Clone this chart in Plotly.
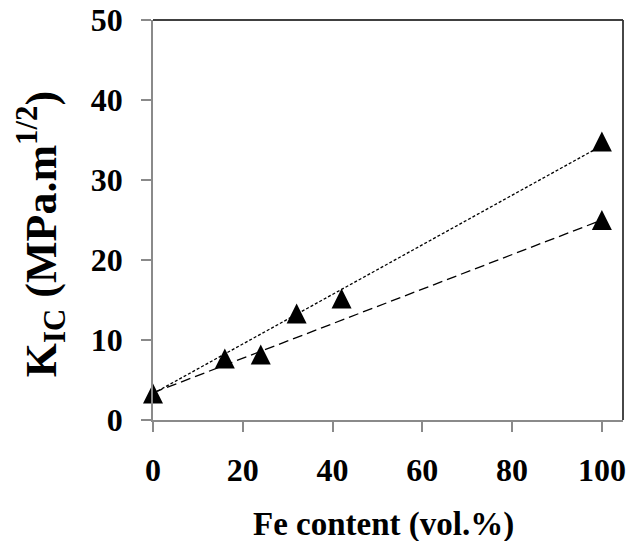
import plotly.graph_objects as go

# Data
fe_content = [0, 16, 24, 32, 42, 100, 100]
kic = [3.3, 7.7, 8.2, 13.3, 15.2, 34.8, 25.0]

trend_x = [0, 100]
trend_dotted_y = [3.3, 34.3]
trend_dashed_y = [3.4, 25.0]

x_ticks = [0, 20, 40, 60, 80, 100]
y_ticks = [0, 10, 20, 30, 40, 50]

FONT = "Liberation Serif"
AXIS_GREY = "#8a8a8a"

fig = go.Figure()
fig.add_trace(go.Scatter(x=trend_x, y=trend_dotted_y, mode="lines",
                         line=dict(color="black", width=1.3, dash="3px,2px"),
                         showlegend=False, hoverinfo="skip"))
fig.add_trace(go.Scatter(x=trend_x, y=trend_dashed_y, mode="lines",
                         line=dict(color="black", width=1.3, dash="10px,5px"),
                         showlegend=False, hoverinfo="skip"))
# arrow-down rotated 180 deg with standoff = half its height -> upright triangle centred on the point
fig.add_trace(go.Scatter(x=fe_content, y=kic, mode="markers",
                         marker=dict(symbol="arrow-down", size=20, color="black",
                                     angle=180, standoff=10, line=dict(width=0)),
                         showlegend=False, cliponaxis=False))

fig.update_layout(
    width=637, height=541,
    margin=dict(l=153, r=14, t=20, b=121),
    paper_bgcolor="white", plot_bgcolor="white",
    font=dict(family=FONT, color="black"),
    xaxis=dict(range=[0, 104.7], tickvals=x_ticks, ticks="outside", ticklen=10,
               tickcolor=AXIS_GREY, tickwidth=1.5, showgrid=False, zeroline=False,
               showline=True, linecolor=AXIS_GREY, linewidth=1.8, automargin=False,
               tickfont=dict(family=FONT, size=32, color="black", weight="bold"),
               ticklabelstandoff=11),
    yaxis=dict(range=[0, 50], tickvals=y_ticks, ticks="outside", ticklen=10,
               tickcolor=AXIS_GREY, tickwidth=1.5, showgrid=False, zeroline=False,
               showline=True, linecolor=AXIS_GREY, linewidth=1.8, automargin=False,
               tickfont=dict(family=FONT, size=32, color="black", weight="bold"),
               ticklabelstandoff=12),
    shapes=[
        dict(type="line", xref="paper", yref="paper", x0=0, x1=1, y0=1, y1=1,
             line=dict(color="black", width=1.5)),
        dict(type="line", xref="paper", yref="paper", x0=1, x1=1, y0=0, y1=1,
             line=dict(color="#333333", width=1.8)),
    ],
    annotations=[
        dict(text="<b>Fe content (vol.%)</b>", xref="paper", yref="paper",
             x=0.4904, y=-0.26, xanchor="center", yanchor="middle", showarrow=False,
             font=dict(family=FONT, size=33, color="black")),
        dict(text="<b>K<sub>IC</sub> (MPa.m<sup>1/2</sup>)</b>", xref="paper", yref="paper",
             x=-0.238, y=0.465, xanchor="center", yanchor="middle", showarrow=False,
             textangle=-90, font=dict(family=FONT, size=44, color="black")),
    ],
)

fig.write_html("out.html", config={"displayModeBar": False},
               post_script="document.body.style.margin='0px';")
